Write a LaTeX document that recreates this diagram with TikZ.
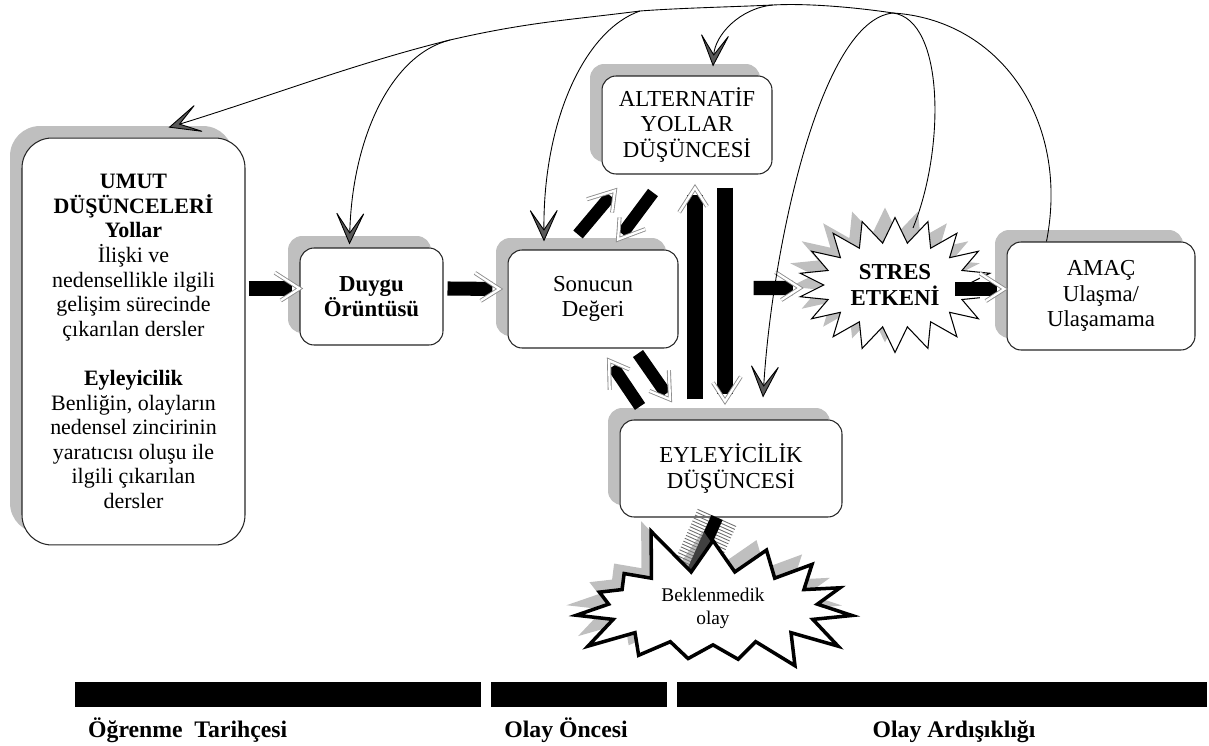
\documentclass[tikz,border=0pt]{standalone}
\usepackage{fontspec}
\setmainfont{Liberation Serif}
\usetikzlibrary{shapes.symbols,arrows.meta,positioning,calc,shadows,decorations.markings}
\definecolor{ShadowGray}{HTML}{808080}
\definecolor{HeadGray}{HTML}{8C8C8C}
\definecolor{TipGray}{HTML}{595959}
\definecolor{HatchGray}{HTML}{6E6E6E}

\begin{document}
\begin{tikzpicture}[x=0.02cm, y=-0.02cm,
  box/.style={draw=black!85, fill=white, rounded corners=8pt, line width=0.6pt, align=center,
    font=\fontsize{13}{14.5}\selectfont,
    drop shadow={shadow xshift=-0.24cm, shadow yshift=0.24cm, fill=ShadowGray, opacity=0.5}},
  burst/.style={starburst, draw=black, fill=white, align=center,
    drop shadow={shadow xshift=-0.2cm, shadow yshift=0.2cm, fill=ShadowGray, opacity=0.5}},
  fat/.style={line width=8pt, shorten >=4pt,
    preaction={decorate, decoration={markings, mark=at position 0.999 with {\fill[white] (0.3pt,0) -- (-14pt,9.5pt) -- (-14pt,-9.5pt) -- cycle;}}},
    postaction={decorate, decoration={markings, mark=at position 0.999 with {\draw[HeadGray, line width=0.5pt, double=white, double distance=1.3pt] (-14pt,9pt) -- (0,0) -- (-14pt,-9pt);}}}},
  fb/.style={line width=0.5pt, -{Stealth[length=20pt, width=18pt, inset=13pt, fill=TipGray, line width=0.5pt]}},
  feed/.style={line width=0.5pt},
  lbl/.style={font=\fontsize{13.5}{15}\selectfont\bfseries, anchor=base}]
  \useasboundingbox (0,0) rectangle (1209,746);

  \node[box, rounded corners=17pt, minimum width=4.46cm, minimum height=8.14cm, font=\fontsize{12.5}{14}\selectfont] (umut) at (133.5,341.5)
    {\textbf{UMUT}\\\textbf{DÜŞÜNCELERİ}\\\textbf{Yollar}\\İlişki ve\\nedensellikle ilgili\\gelişim sürecinde\\çıkarılan dersler\\[14pt]\textbf{Eyleyicilik}\\Benliğin, olayların\\nedensel zincirinin\\yaratıcısı oluşu ile\\ilgili çıkarılan\\dersler};
  \node[box, minimum width=2.86cm, minimum height=1.94cm, font=\fontsize{13}{14.5}\selectfont\bfseries] (duygu) at (371.5,296.5) {Duygu\\Örüntüsü};
  \node[box, minimum width=3.4cm, minimum height=1.96cm, right=1.28cm of duygu, yshift=-0.05cm] (sonuc) {Sonucun\\Değeri};
  \node[box, minimum width=3.4cm, minimum height=1.96cm] (alt) at (687,125) {ALTERNATİF\\YOLLAR\\DÜŞÜNCESİ};
  \node[box, minimum width=4.44cm, minimum height=1.94cm] (eyl) at (731,468.5) {EYLEYİCİLİK\\DÜŞÜNCESİ};
  \node[box, minimum width=3.76cm, minimum height=2.16cm] (amac) at (1101,296) {AMAÇ\\Ulaşma/\\Ulaşamama};
  \node[burst, line width=0.6pt, starburst points=18, starburst point height=0.5cm, random starburst=0, minimum width=3.85cm, minimum height=2.7cm, font=\fontsize{13}{15}\selectfont\bfseries] (stres) at (895,285) {STRES\\ETKENİ};

  \coordinate (hit) at (690,578);
  \draw[line width=7pt, preaction={draw=HatchGray, line width=24pt, dash pattern=on 0.5pt off 1.3pt}] ($(eyl.south)+(-14,0)$) -- (hit);
  \node[burst, line width=2pt, starburst points=15, starburst point height=1cm, random starburst=5, minimum width=6.2cm, minimum height=2.6cm, font=\fontsize{11}{13}\selectfont] (bek) at (713,608) {Beklenmedik\\olay};

  \draw[fat] ($(umut.east |- duygu.west)+(3,-8)$) -- ($(duygu.west)+(0,-8)$);
  \draw[fat] ($(duygu.east)+(4,-8)$) -- ($(sonuc.west)+(-8,-10)$);
  \draw[fat] ($(sonuc.east)+(75,-11)$) -- ($(stres)+(-95,3)$);
  \draw[fat] ($(stres)+(60,4)$) -- ($(amac.west)+(-2,-7)$);
  \draw[fat, line width=7pt] ($(sonuc.north)+(-15,-15)$) -- ($(alt.south)+(-72,16)$);
  \draw[fat, line width=7pt] ($(alt.south)+(-34,18)$) -- ($(sonuc.north)+(25,-10)$);
  \draw[fat, line width=9pt] ($(eyl.north)+(-36,-20)$) -- ($(alt.south)+(8,13)$);
  \draw[fat, line width=9pt] ($(alt.south)+(38,13)$) -- ($(eyl.north)+(-6,-18)$);
  \draw[fat, line width=7pt] ($(eyl.north)+(-91,-13)$) -- ($(sonuc.south)+(16,12)$);
  \draw[fat, line width=7pt] ($(sonuc.south)+(45,5)$) -- ($(eyl.north)+(-61,-20)$);

  \coordinate (apex) at (893,13);
  \coordinate (ja) at (773,5);
  \coordinate (jb) at (640,11);
  \coordinate (jc) at (450,40);
  \draw[feed] ($(amac.north west)+(40,0)$) .. controls (1070,120) and (1000,20) .. (apex);
  \draw[feed] (apex) .. controls (860,8) and (810,3) .. (ja) .. controls (730,7) and (680,8) .. (jb) .. controls (570,20) and (528,22) .. (jc);
  \draw[fb] (jc) .. controls (353,64) and (265,98) .. ($(umut.north)+(35,-10)$);
  \draw[fb] (jc) .. controls (390,55) and (352,140) .. ($(duygu.north)+(-22,-3)$);
  \draw[fb] (jb) .. controls (585,30) and (543,120) .. ($(sonuc.north)+(-49,-8)$);
  \draw[fb] (ja) .. controls (740,8) and (715,35) .. ($(alt.north)+(26,-9)$);
  \draw[fb] ($(stres)+(18,-57)$) .. controls (945,150) and (945,20) .. (apex) .. controls (820,20) and (772,250) .. ($(eyl.north)+(32,-22)$);

  \fill (75,682) rectangle (481,707);
  \fill (491,682) rectangle (667,707);
  \fill (677,682) rectangle (1207,707);
  \node[lbl, anchor=base west] (hist) at (82,737) {Öğrenme\ \ Tarihçesi};
  \node[lbl] (pre) at (566,737) {Olay Öncesi};
  \node[lbl] (seq) at (954,737) {Olay Ardışıklığı};
\end{tikzpicture}
\end{document}
